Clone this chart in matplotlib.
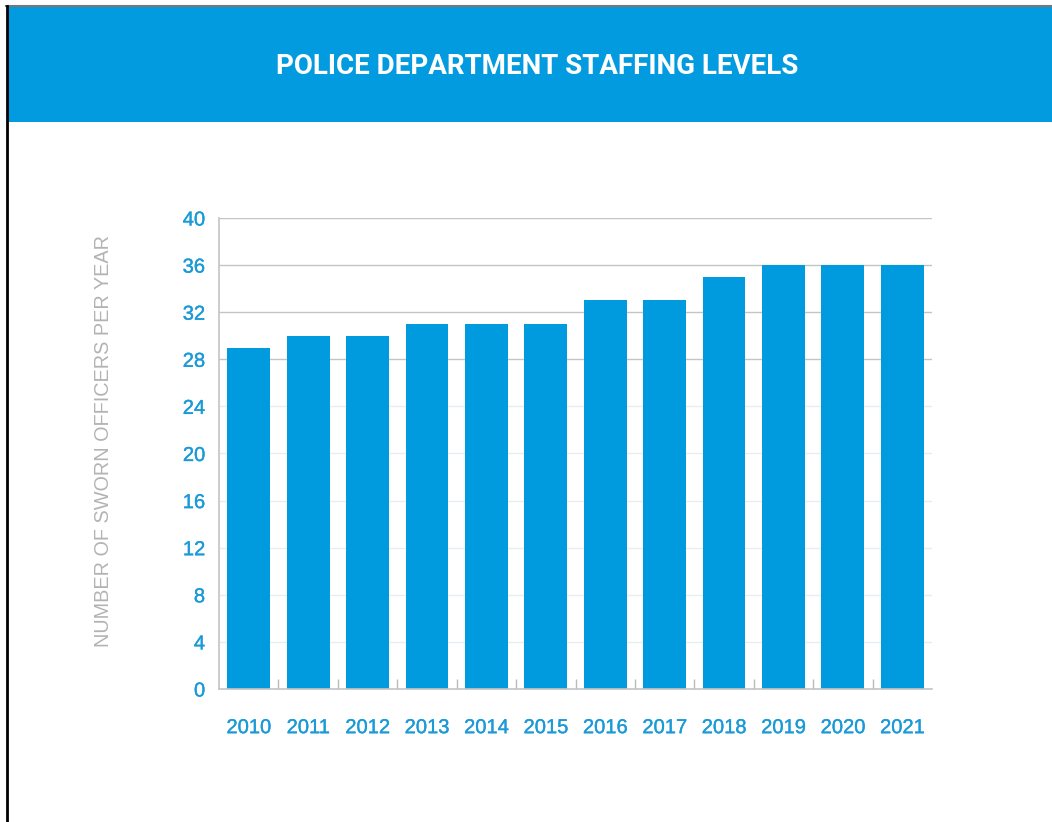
import matplotlib.pyplot as plt
import matplotlib.patheffects as pe
from matplotlib.patches import Rectangle
from matplotlib.lines import Line2D

# Sworn officers per year
years = ['2010', '2011', '2012', '2013', '2014', '2015',
         '2016', '2017', '2018', '2019', '2020', '2021']
officers = [29, 30, 30, 31, 31, 31, 33, 33, 35, 36, 36, 36]
y_ticks = [0, 4, 8, 12, 16, 20, 24, 28, 32, 36, 40]

BLUE = '#009ade'
LABEL_BLUE = '#1b9ad8'

plt.rcParams['font.family'] = ['Liberation Sans', 'DejaVu Sans']

fig = plt.figure(figsize=(10.52, 8.22), dpi=100)
W, H = 1052, 822

# header band and frame lines
fig.patches.append(Rectangle((7 / W, 1 - 122 / H), 1 - 7 / W, 115 / H,
                             transform=fig.transFigure, facecolor='#039bdf',
                             edgecolor='none', zorder=0))
fig.lines.append(Line2D([6 / W, 1], [1 - 6 / H, 1 - 6 / H], transform=fig.transFigure,
                        color='#777777', lw=1.5))
fig.lines.append(Line2D([7 / W, 7 / W], [0, 1 - 6 / H], transform=fig.transFigure,
                        color='black', lw=2))
fig.text(537 / W, 1 - 66 / H, 'POLICE DEPARTMENT STAFFING LEVELS', color='white',
         fontsize=20, fontweight='bold', family=['Roboto', 'DejaVu Sans'],
         fontstretch='condensed', ha='center', va='center')

ax = fig.add_axes([219 / W, 1 - 689 / H, 713 / W, 471 / H])
x = list(range(len(years)))

# grid: faint lines low down, grey lines at the upper values
for t in y_ticks[1:]:
    c = '#c4c4c4' if t >= 28 else '#e6eef2'
    ax.axhline(t, color=c, lw=1, zorder=0)

ax.bar(x, officers, width=0.72, color=BLUE, zorder=2)

ax.set_xlim(-0.5, len(years) - 0.5)
ax.set_ylim(0, 40)
ax.set_yticks(y_ticks)
ax.set_yticklabels([str(t) for t in y_ticks])
ax.set_xticks(x)
ax.set_xticklabels(years)
ax.set_xticks([i + 0.5 for i in x[:-1]], minor=True)

ax.tick_params(axis='y', length=0, pad=10, labelsize=14.5, labelcolor=LABEL_BLUE)
ax.tick_params(axis='x', which='major', length=0, pad=21, labelsize=14.5, labelcolor=LABEL_BLUE)
ax.tick_params(axis='x', which='minor', direction='in', length=7, width=1, color='#bbbbbb')

# slightly heavier tick labels
for lbl in ax.get_xticklabels() + ax.get_yticklabels():
    lbl.set_path_effects([pe.withStroke(linewidth=0.25, foreground=LABEL_BLUE)])

for side in ['top', 'right']:
    ax.spines[side].set_visible(False)
for side in ['left', 'bottom']:
    ax.spines[side].set_color('#c4c4c4')
    ax.spines[side].set_linewidth(1.2)

fig.text(104 / W, 1 - 441 / H, 'NUMBER OF SWORN OFFICERS PER YEAR', color='#b3b3b3',
         fontsize=14.3, rotation=90, ha='center', va='center')

fig.savefig('out.png', dpi=100, facecolor='white')
